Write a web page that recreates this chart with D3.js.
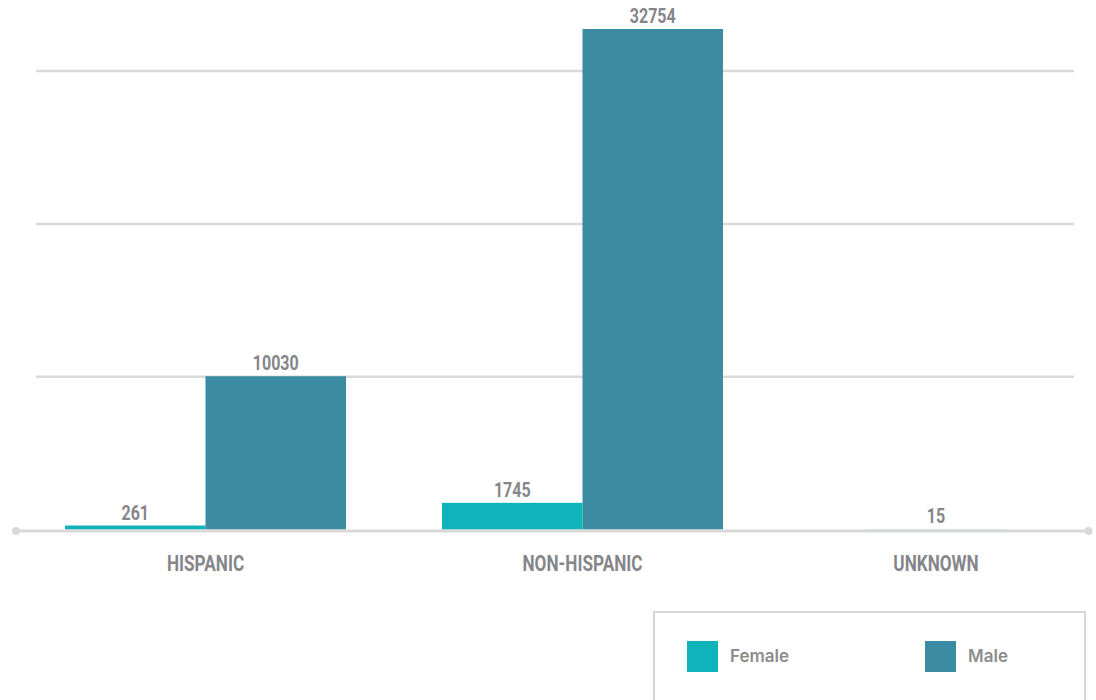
<!DOCTYPE html>
<html>
<head>
<meta charset="utf-8">
<script src="https://cdn.jsdelivr.net/npm/d3@7"></script>
<style>
  html, body { margin: 0; padding: 0; background: #fff; }
  svg { display: block; }
</style>
</head>
<body>
<svg id="chart" width="1096" height="700"></svg>
<script>
// Patients by ethnicity and sex
const categories = ["HISPANIC", "NON-HISPANIC", "UNKNOWN"];
const seriesNames = ["Female", "Male"];
const femaleValues = [261, 1745, null];
const maleValues = [10030, 32754, 15];
const gridTicks = [10000, 20000, 30000];

const colors = { Female: "#0fb3ba", Male: "#3b8ba3" };
const textGrey = "#86868a";
const lineGrey = "#d9d9d9";

const svg = d3.select("#chart");

const baseY = 529.5;
const y = d3.scaleLinear()
  .domain([0, d3.max(maleValues)])
  .range([baseY, 29]);

// category bands; each band holds the sex sub-bands
const x0 = d3.scaleBand()
  .domain(categories)
  .range([65, 1100])
  .paddingInner(0.2546)
  .paddingOuter(0);

const x1 = d3.scaleBand()
  .domain(seriesNames)
  .range([0, x0.bandwidth()]);

const rows = categories.map((c, i) => ({
  category: c,
  values: [
    { key: "Female", value: femaleValues[i] },
    { key: "Male", value: maleValues[i] }
  ].filter(d => d.value != null)
}));

// gridlines
svg.append("g")
  .selectAll("line")
  .data(gridTicks)
  .join("line")
  .attr("x1", 36).attr("x2", 1074)
  .attr("y1", d => y(d)).attr("y2", d => y(d))
  .attr("stroke", lineGrey)
  .attr("stroke-width", 2.5);

// a lone bar is drawn narrow and centred under the category's label
function barX(row, d) {
  if (row.values.length === 1) return x0.bandwidth() / 2 - 23.5 - x1.bandwidth() / 2;
  return x1(d.key);
}

const groups = svg.append("g")
  .selectAll("g")
  .data(rows)
  .join("g")
  .attr("transform", d => `translate(${x0(d.category)},0)`);

groups.each(function (row) {
  const g = d3.select(this);
  g.selectAll("rect")
    .data(row.values)
    .join("rect")
    .attr("x", d => barX(row, d))
    .attr("y", d => y(d.value))
    .attr("width", x1.bandwidth())
    .attr("height", d => baseY - y(d.value))
    .attr("fill", d => colors[d.key]);

  g.selectAll("text")
    .data(row.values)
    .join("text")
    .attr("transform", d => `translate(${barX(row, d) + x1.bandwidth() / 2},${y(d.value) - 6}) scale(0.8,1)`)
    .attr("text-anchor", "middle")
    .attr("font-family", "Roboto, 'Liberation Sans', sans-serif")
    .attr("font-weight", 700)
    .attr("font-size", 20)
    .attr("fill", textGrey)
    .text(d => d.value);
});

// x axis line with end dots
const axis = svg.append("g");
axis.append("line")
  .attr("x1", 16).attr("x2", 1088.5)
  .attr("y1", 531).attr("y2", 531)
  .attr("stroke", lineGrey)
  .attr("stroke-width", 3);
axis.selectAll("circle")
  .data([16, 1088.5])
  .join("circle")
  .attr("cx", d => d).attr("cy", 531).attr("r", 4)
  .attr("fill", lineGrey);

// category labels, centred over each group's bars
svg.append("g")
  .selectAll("text")
  .data(rows)
  .join("text")
  .attr("transform", r => {
    const cx = r.values.length === 1
      ? x0(r.category) + barX(r, r.values[0]) + x1.bandwidth() / 2
      : x0(r.category) + x0.bandwidth() / 2;
    return `translate(${cx},571) scale(0.78,1)`;
  })
  .attr("text-anchor", "middle")
  .attr("font-family", "Roboto, 'Liberation Sans', sans-serif")
  .attr("font-weight", 700)
  .attr("font-size", 22)
  .attr("fill", textGrey)
  .text(r => r.category);

// legend
const legend = svg.append("g");
legend.append("rect")
  .attr("x", 654).attr("y", 612)
  .attr("width", 431).attr("height", 100)
  .attr("fill", "none")
  .attr("stroke", "#d6d6d6")
  .attr("stroke-width", 2);

const legendX = d3.scalePoint()
  .domain(seriesNames)
  .range([687, 925]);

const items = legend.selectAll("g.item")
  .data(seriesNames)
  .join("g")
  .attr("class", "item")
  .attr("transform", d => `translate(${legendX(d)},641)`);
items.append("rect")
  .attr("width", 31).attr("height", 31)
  .attr("fill", d => colors[d]);
items.append("text")
  .attr("x", 43).attr("y", 21)
  .attr("font-family", "Inter, Roboto, sans-serif")
  .attr("font-weight", 600)
  .attr("font-size", 17)
  .attr("fill", "#8c8c8c")
  .text(d => d);
</script>
</body>
</html>
